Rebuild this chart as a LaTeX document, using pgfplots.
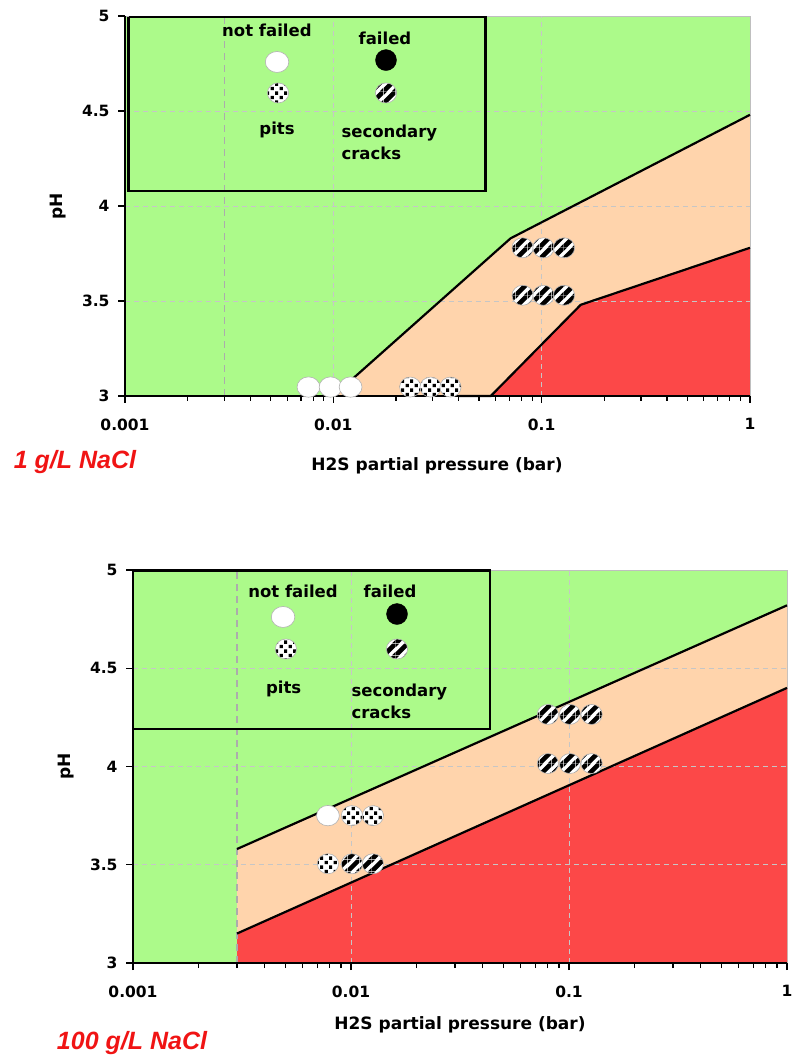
\documentclass[border=0pt]{standalone}
\usepackage{pgfplots}
\pgfplotsset{compat=1.18}
\usepackage{fontspec}
\setmainfont{DejaVu Sans}
\newfontfamily\redfont{Liberation Sans}
\definecolor{grfill}{RGB}{172,250,138}
\definecolor{orfill}{RGB}{255,212,172}
\definecolor{redfill}{RGB}{252,72,72}
\definecolor{redtxt}{RGB}{240,20,20}

\pgfdeclarepatternformonly{stripesX}{\pgfpointorigin}{\pgfpoint{12bp}{12bp}}{\pgfpoint{12bp}{12bp}}{%
  \pgfpathmoveto{\pgfpoint{0bp}{0bp}}%
  \pgfpathlineto{\pgfpoint{3.4bp}{0bp}}%
  \pgfpathlineto{\pgfpoint{12bp}{8.6bp}}%
  \pgfpathlineto{\pgfpoint{12bp}{12bp}}%
  \pgfpathlineto{\pgfpoint{8.6bp}{12bp}}%
  \pgfpathlineto{\pgfpoint{0bp}{3.4bp}}%
  \pgfpathclose
  \pgfpathmoveto{\pgfpoint{8.6bp}{0bp}}\pgfpathlineto{\pgfpoint{12bp}{0bp}}\pgfpathlineto{\pgfpoint{12bp}{3.4bp}}\pgfpathclose
  \pgfpathmoveto{\pgfpoint{0bp}{8.6bp}}\pgfpathlineto{\pgfpoint{0bp}{12bp}}\pgfpathlineto{\pgfpoint{3.4bp}{12bp}}\pgfpathclose
  \pgfusepath{fill}}

\pgfdeclarepatternformonly{dotsX}{\pgfpoint{-1bp}{-1bp}}{\pgfpoint{10bp}{10bp}}{\pgfpoint{9bp}{9bp}}{%
  \pgfpathrectangle{\pgfpoint{0.5bp}{0.8bp}}{\pgfpoint{3.4bp}{3.2bp}}%
  \pgfpathrectangle{\pgfpoint{5.0bp}{5.2bp}}{\pgfpoint{3.2bp}{3.4bp}}%
  \pgfusepath{fill}}

\pgfdeclareplotmark{wov}{%
  \pgfpathellipse{\pgfpointorigin}{\pgfpoint{1.12\pgfplotmarksize}{0pt}}{\pgfpoint{0pt}{\pgfplotmarksize}}%
  \pgfusepathqfillstroke}
\pgfdeclareplotmark{pitm}{%
  \pgfpathellipse{\pgfpointorigin}{\pgfpoint{1.06\pgfplotmarksize}{0pt}}{\pgfpoint{0pt}{\pgfplotmarksize}}%
  \pgfusepathqfill
  \pgfscope
  \pgfsetfillpattern{dotsX}{black}%
  \pgfpathellipse{\pgfpointorigin}{\pgfpoint{1.06\pgfplotmarksize}{0pt}}{\pgfpoint{0pt}{\pgfplotmarksize}}%
  \pgfusepath{fill}%
  \endpgfscope
  \pgfpathellipse{\pgfpointorigin}{\pgfpoint{1.06\pgfplotmarksize}{0pt}}{\pgfpoint{0pt}{\pgfplotmarksize}}%
  \pgfusepathqstroke}
\pgfdeclareplotmark{crkm}{%
  \pgfpathellipse{\pgfpointorigin}{\pgfpoint{1.06\pgfplotmarksize}{0pt}}{\pgfpoint{0pt}{\pgfplotmarksize}}%
  \pgfusepathqfill
  \pgfscope
  \pgfsetfillpattern{stripesX}{black}%
  \pgfpathellipse{\pgfpointorigin}{\pgfpoint{1.06\pgfplotmarksize}{0pt}}{\pgfpoint{0pt}{\pgfplotmarksize}}%
  \pgfusepath{fill}%
  \endpgfscope
  \pgfpathellipse{\pgfpointorigin}{\pgfpoint{1.06\pgfplotmarksize}{0pt}}{\pgfpoint{0pt}{\pgfplotmarksize}}%
  \pgfusepathqstroke}

\pgfplotsset{
  every axis/.append style={
    scale only axis,
    axis lines*=left,
    axis line style={line width=1.6bp, black},
    axis background/.style={fill=grfill, draw=gray!50},
    tick align=outside,
    major tick length=7bp, minor tick length=5bp,
    tick style={black, line width=1.2bp},
    axis on top,
    ticklabel style={font=\bfseries\fontsize{15.5bp}{18bp}\selectfont},
    xticklabel style={yshift=-12bp},
    yticklabel style={xshift=-5bp},
    clip=false,
  },
  gline/.style={gray!45, dash pattern=on 5bp off 4bp, line width=0.6bp, forget plot},
  wmark/.style={only marks, mark=wov, mark size=10.2bp, mark options={fill=white, draw=gray!60, line width=0.6bp}},
  pmark/.style={only marks, mark=pitm, mark size=10bp, mark options={fill=white, draw=gray!60, line width=0.6bp}},
  cmark/.style={only marks, mark=crkm, mark size=10bp, mark options={fill=white, draw=gray!60, line width=0.6bp}},
  bmark/.style={only marks, mark=*, mark size=10.5bp, mark options={fill=black, draw=black}},
}
\newcommand{\legfont}{\bfseries\fontsize{16.5bp}{22bp}\selectfont}
\newcommand{\labfont}{\bfseries\fontsize{17bp}{20bp}\selectfont}
\newcommand{\redlab}{\redfont\bfseries\itshape\fontsize{25bp}{28bp}\selectfont\color{redtxt}}

\begin{document}
\begin{tikzpicture}
\useasboundingbox (0,0) rectangle (795bp,1063bp);

% ---------------- top chart: 1 g/L NaCl ----------------
\begin{axis}[at={(125bp,667bp)}, anchor=south west, width=625bp, height=380bp,
  xmode=log, xmin=0.001, xmax=1, ymin=3, ymax=5,
  xtick={0.001,0.01,0.1,1}, xticklabels={0.001,0.01,0.1,1},
  ytick={3,3.5,4,4.5,5}, yticklabels={3,3.5,4,4.5,5}]
\addplot[fill=orfill, draw=none] coordinates {(0.01,3) (0.071,3.83) (1,4.48) (1,3)} -- cycle;
\addplot[fill=redfill, draw=none] coordinates {(0.057,3) (0.154,3.48) (1,3.78) (1,3)} -- cycle;
% grid
\addplot[gline] coordinates {(0.001,3.5) (1,3.5)};
\addplot[gline] coordinates {(0.001,4) (1,4)};
\addplot[gline] coordinates {(0.001,4.5) (1,4.5)};
\addplot[gline] coordinates {(0.01,3) (0.01,5)};
\addplot[gline] coordinates {(0.1,3) (0.1,5)};
\addplot[gray!65, dash pattern=on 7bp off 5bp, line width=1.1bp] coordinates {(0.003,3) (0.003,5)};
\addplot[black, line width=2.2bp] coordinates {(0.01,3) (0.071,3.83) (1,4.48)};
\addplot[black, line width=2.2bp] coordinates {(0.04,3) (0.057,3) (0.154,3.48) (1,3.78)};
% legend box
\addplot[black, line width=2.4bp] coordinates {(0.00104,4.995) (0.0538,4.995) (0.0538,4.079) (0.00104,4.079) (0.00104,4.995)};
\addplot[wmark, mark size=10.5bp] coordinates {(0.00537,4.758)};
\addplot[pmark] coordinates {(0.00543,4.595)};
\addplot[bmark] coordinates {(0.0179,4.768)};
\addplot[cmark] coordinates {(0.0179,4.595)};
\node[font=\legfont] at (axis cs:0.0048,4.926) {not failed};
\node[font=\legfont] at (axis cs:0.0177,4.884) {failed};
\node[font=\legfont] at (axis cs:0.00537,4.40) {pits};
\node[font=\legfont, anchor=west, align=left] at (axis cs:0.01053,4.337) {secondary\\cracks};
% data
\addplot[wmark] coordinates {(0.0076,3.047) (0.0097,3.047) (0.0121,3.047)};
\addplot[pmark] coordinates {(0.0234,3.047) (0.0293,3.047) (0.0365,3.047)};
\addplot[cmark] coordinates {(0.081,3.78) (0.102,3.78) (0.128,3.78)};
\addplot[cmark] coordinates {(0.081,3.53) (0.102,3.53) (0.128,3.53)};
\end{axis}
\node[font=\labfont, rotate=90] at (58bp,857bp) {pH};
\node[font=\labfont] at (437bp,597bp) {H2S partial pressure (bar)};
\node[font=\redlab] at (75bp,601bp) {1 g/L NaCl};

% ---------------- bottom chart: 100 g/L NaCl ----------------
\begin{axis}[at={(133bp,100bp)}, anchor=south west, width=654bp, height=393bp,
  xmode=log, xmin=0.001, xmax=1, ymin=3, ymax=5,
  xtick={0.001,0.01,0.1,1}, xticklabels={0.001,0.01,0.1,1},
  ytick={3,3.5,4,4.5,5}, yticklabels={3,3.5,4,4.5,5}]
\addplot[fill=orfill, draw=none] coordinates {(0.003,3) (0.003,3.58) (1,4.82) (1,3)} -- cycle;
\addplot[fill=redfill, draw=none] coordinates {(0.003,3) (0.003,3.15) (1,4.40) (1,3)} -- cycle;
% grid
\addplot[gline] coordinates {(0.001,3.5) (1,3.5)};
\addplot[gline] coordinates {(0.001,4) (1,4)};
\addplot[gline] coordinates {(0.001,4.5) (1,4.5)};
\addplot[gline] coordinates {(0.01,3) (0.01,5)};
\addplot[gline] coordinates {(0.1,3) (0.1,5)};
\addplot[gray!65, dash pattern=on 7bp off 5bp, line width=1.1bp] coordinates {(0.003,3) (0.003,5)};
\addplot[black, line width=2.2bp] coordinates {(0.003,3.58) (1,4.82)};
\addplot[black, line width=2.2bp] coordinates {(0.003,3.15) (1,4.40)};
% legend box
\addplot[black, line width=2.4bp] coordinates {(0.001,4.997) (0.0434,4.997) (0.0434,4.19) (0.001,4.19) (0.001,4.997)};
\addplot[wmark, mark size=10.5bp] coordinates {(0.00488,4.761)};
\addplot[pmark] coordinates {(0.00503,4.598)};
\addplot[bmark] coordinates {(0.01626,4.776)};
\addplot[cmark] coordinates {(0.01626,4.598)};
\node[font=\legfont] at (axis cs:0.00542,4.893) {not failed};
\node[font=\legfont] at (axis cs:0.0151,4.893) {failed};
\node[font=\legfont] at (axis cs:0.00491,4.394) {pits};
\node[font=\legfont, anchor=west, align=left] at (axis cs:0.00969,4.333) {secondary\\cracks};
% data
\addplot[wmark] coordinates {(0.00784,3.75)};
\addplot[pmark] coordinates {(0.0101,3.75) (0.0126,3.75)};
\addplot[pmark] coordinates {(0.00784,3.505)};
\addplot[cmark] coordinates {(0.0101,3.505) (0.0126,3.505)};
\addplot[cmark] coordinates {(0.080,4.265) (0.101,4.265) (0.127,4.265)};
\addplot[cmark] coordinates {(0.080,4.015) (0.101,4.015) (0.127,4.015)};
\end{axis}
\node[font=\labfont, rotate=90] at (66bp,297bp) {pH};
\node[font=\labfont] at (460bp,38bp) {H2S partial pressure (bar)};
\node[font=\redlab] at (132bp,20bp) {100 g/L NaCl};
\end{tikzpicture}
\end{document}
